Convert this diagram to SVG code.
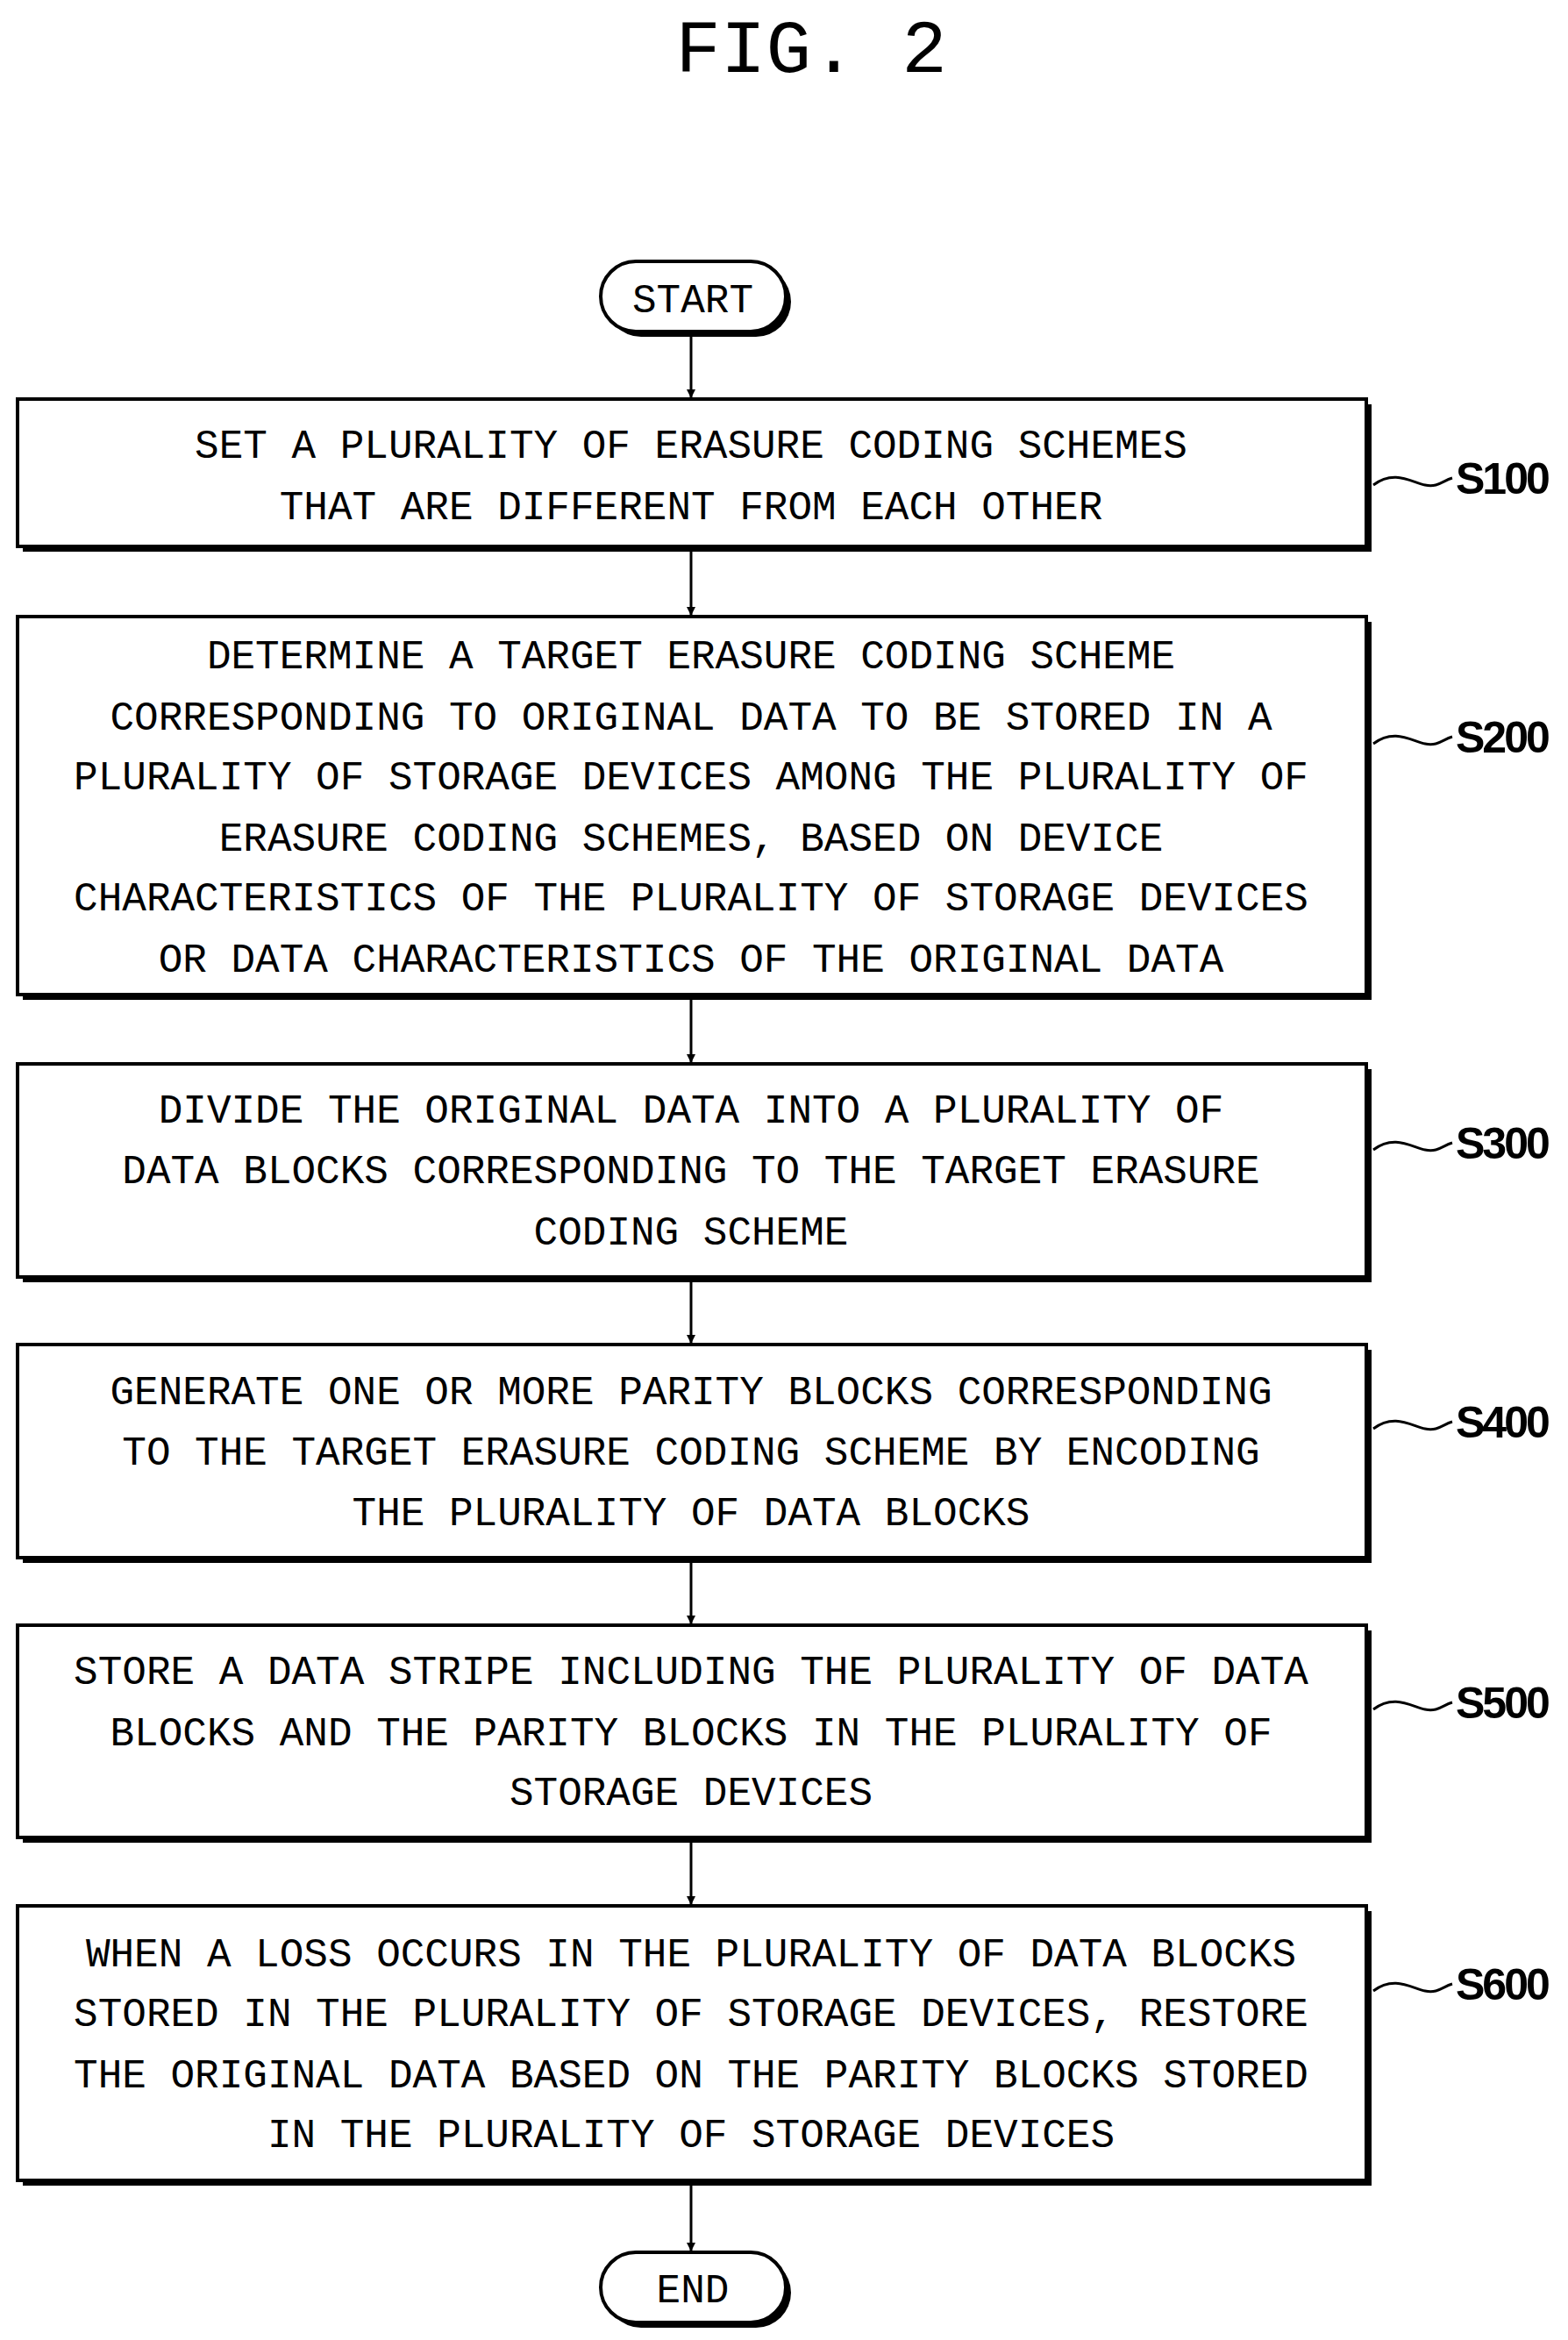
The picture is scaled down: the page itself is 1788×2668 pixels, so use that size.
<svg xmlns="http://www.w3.org/2000/svg" width="1788" height="2668" viewBox="0 0 1788 2668">
<style>
.b{fill:#fff;stroke:#000;stroke-width:4}
.sh{fill:#000}
.t{font-family:"Liberation Mono",monospace;font-size:46px;text-anchor:middle}
.l{font-family:"Liberation Sans",Arial,sans-serif;font-size:50px;font-weight:bold;letter-spacing:-3px}
.c{fill:none;stroke:#000;stroke-width:3}
</style>
<defs><marker id="a" markerWidth="10" markerHeight="10" refX="9" refY="5" orient="auto" markerUnits="userSpaceOnUse" viewBox="0 0 10 10"><path d="M0,0L10,5L0,10z"/></marker></defs>
<rect width="1788" height="2668" fill="#fff"/>
<text x="925" y="82" font-family="Liberation Mono,monospace" font-size="86" text-anchor="middle">FIG. 2</text>
<g id="start"><rect x="691" y="304" width="211" height="80" rx="40" class="sh"/><rect x="685" y="298" width="211" height="80" rx="40" class="b"/><text x="790" y="356" class="t">START</text></g>
<g id="s100"><rect x="26" y="461" width="1538" height="168" class="sh"/><rect x="20" y="455" width="1538" height="168" class="b"/>
<text class="t" x="788" y="522">SET A PLURALITY OF ERASURE CODING SCHEMES</text><text class="t" x="788" y="592">THAT ARE DIFFERENT FROM EACH OTHER</text></g>
<g id="s200"><rect x="26" y="709" width="1538" height="431" class="sh"/><rect x="20" y="703" width="1538" height="431" class="b"/>
<text class="t" x="788" y="762">DETERMINE A TARGET ERASURE CODING SCHEME</text><text class="t" x="788" y="832">CORRESPONDING TO ORIGINAL DATA TO BE STORED IN A</text><text class="t" x="788" y="900">PLURALITY OF STORAGE DEVICES AMONG THE PLURALITY OF</text><text class="t" x="788" y="970">ERASURE CODING SCHEMES, BASED ON DEVICE</text><text class="t" x="788" y="1038">CHARACTERISTICS OF THE PLURALITY OF STORAGE DEVICES</text><text class="t" x="788" y="1108">OR DATA CHARACTERISTICS OF THE ORIGINAL DATA</text></g>
<g id="s300"><rect x="26" y="1219" width="1538" height="243" class="sh"/><rect x="20" y="1213" width="1538" height="243" class="b"/>
<text class="t" x="788" y="1280">DIVIDE THE ORIGINAL DATA INTO A PLURALITY OF</text><text class="t" x="788" y="1349">DATA BLOCKS CORRESPONDING TO THE TARGET ERASURE</text><text class="t" x="788" y="1419">CODING SCHEME</text></g>
<g id="s400"><rect x="26" y="1539" width="1538" height="243" class="sh"/><rect x="20" y="1533" width="1538" height="243" class="b"/>
<text class="t" x="788" y="1601">GENERATE ONE OR MORE PARITY BLOCKS CORRESPONDING</text><text class="t" x="788" y="1670">TO THE TARGET ERASURE CODING SCHEME BY ENCODING</text><text class="t" x="788" y="1739">THE PLURALITY OF DATA BLOCKS</text></g>
<g id="s500"><rect x="26" y="1859" width="1538" height="242" class="sh"/><rect x="20" y="1853" width="1538" height="242" class="b"/>
<text class="t" x="788" y="1920">STORE A DATA STRIPE INCLUDING THE PLURALITY OF DATA</text><text class="t" x="788" y="1990">BLOCKS AND THE PARITY BLOCKS IN THE PLURALITY OF</text><text class="t" x="788" y="2058">STORAGE DEVICES</text></g>
<g id="s600"><rect x="26" y="2179" width="1538" height="313" class="sh"/><rect x="20" y="2173" width="1538" height="313" class="b"/>
<text class="t" x="788" y="2242">WHEN A LOSS OCCURS IN THE PLURALITY OF DATA BLOCKS</text><text class="t" x="788" y="2310">STORED IN THE PLURALITY OF STORAGE DEVICES, RESTORE</text><text class="t" x="788" y="2380">THE ORIGINAL DATA BASED ON THE PARITY BLOCKS STORED</text><text class="t" x="788" y="2448">IN THE PLURALITY OF STORAGE DEVICES</text></g>
<g id="end"><rect x="691" y="2574" width="211" height="80" rx="40" class="sh"/><rect x="685" y="2568" width="211" height="80" rx="40" class="b"/><text x="790" y="2625" class="t">END</text></g>
<g id="labels">
<text class="l" x="1660" y="563">S100</text><text class="l" x="1660" y="858">S200</text><text class="l" x="1660" y="1321">S300</text><text class="l" x="1660" y="1639">S400</text><text class="l" x="1660" y="1959">S500</text><text class="l" x="1660" y="2280">S600</text>
</g>
<g id="connectors">
<path class="c" d="M788,380V453" marker-end="url(#a)"/>
<path class="c" d="M788,629V701" marker-end="url(#a)"/>
<path class="c" d="M788,1140V1211" marker-end="url(#a)"/>
<path class="c" d="M788,1462V1531" marker-end="url(#a)"/>
<path class="c" d="M788,1782V1851" marker-end="url(#a)"/>
<path class="c" d="M788,2101V2171" marker-end="url(#a)"/>
<path class="c" d="M788,2492V2566" marker-end="url(#a)"/>
<path class="c" d="M1566,553C1590,535 1610,550 1625,553S1645,548 1656,545"/>
<path class="c" d="M1566,848C1590,830 1610,845 1625,848S1645,843 1656,840"/>
<path class="c" d="M1566,1311C1590,1293 1610,1308 1625,1311S1645,1306 1656,1303"/>
<path class="c" d="M1566,1629C1590,1611 1610,1626 1625,1629S1645,1624 1656,1621"/>
<path class="c" d="M1566,1949C1590,1931 1610,1946 1625,1949S1645,1944 1656,1941"/>
<path class="c" d="M1566,2270C1590,2252 1610,2267 1625,2270S1645,2265 1656,2262"/>
</g>
</svg>
